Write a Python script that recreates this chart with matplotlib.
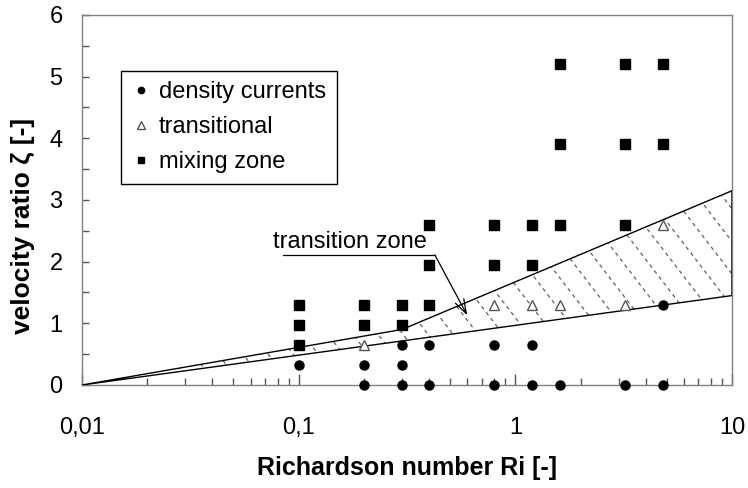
# Flow regimes: velocity ratio vs. Richardson number
import matplotlib
matplotlib.use("Agg")
import matplotlib.pyplot as plt
import numpy as np

plt.rcParams["font.family"] = ["Liberation Sans", "DejaVu Sans"]
plt.rcParams["font.size"] = 17

# observed regimes (Ri, zeta)
dens_ri = [0.1, 0.2, 0.2, 0.3, 0.3, 0.3, 0.4, 0.4, 0.8, 0.8, 1.2, 1.2, 1.6, 3.2, 4.8, 4.8]
dens_z = [0.325, 0.325, 0.0, 0.65, 0.325, 0.0, 0.65, 0.0, 0.65, 0.0, 0.65, 0.0, 0.0, 0.0, 1.3, 0.0]

trans_ri = [0.2, 0.8, 1.2, 1.6, 3.2, 4.8]
trans_z = [0.65, 1.3, 1.3, 1.3, 1.3, 2.6]

mix_ri = [0.1, 0.1, 0.1, 0.2, 0.2, 0.3, 0.3, 0.4, 0.4, 0.4, 0.8, 0.8, 1.2, 1.2,
          1.6, 1.6, 1.6, 3.2, 3.2, 3.2, 4.8, 4.8]
mix_z = [1.3, 0.975, 0.65, 1.3, 0.975, 1.3, 0.975, 2.6, 1.95, 1.3, 2.6, 1.95, 2.6, 1.95,
         5.2, 3.9, 2.6, 5.2, 3.9, 2.6, 5.2, 3.9]

# boundaries of the transition zone
lower_ri = [0.01, 10]
lower_z = [0.0, 1.45]
upper_ri = [0.01, 0.3, 10]
upper_z = [0.0, 0.9, 3.15]

xticks = [0.01, 0.1, 1, 10]
xticklabels = ["0,01", "0,1", "1", "10"]

fig = plt.figure(figsize=(7.48, 4.88), dpi=100)
ax = fig.add_axes([0.1096, 0.2111, 0.869, 0.7582])
ax.set_xscale("log")
ax.set_xlim(0.01, 10)
ax.set_ylim(0, 6)

# zone polygon (straight segments in log-x)
zx = np.array(upper_ri, dtype=float)
lo = np.interp(np.log10(zx), np.log10(lower_ri), lower_z)
poly_x = list(zx) + list(zx[::-1])
poly_y = list(upper_z) + list(lo[::-1])
poly = ax.fill(poly_x, poly_y, facecolor="none", edgecolor="black", lw=1.0, zorder=3)[0]

# dashed hatch clipped to the zone
slope = 1.3 * 650 / 370
for x0 in np.arange(-0.5, 1.5, 0.0385):
    ln, = ax.plot([x0, x0 + 1 / slope], [1, 0], transform=ax.transAxes,
                  color="#606060", lw=0.9, ls=(0, (3, 3)), zorder=2)
    ln.set_clip_path(poly)

ax.plot(dens_ri, dens_z, "o", color="black", ms=6.5, ls="none",
        label="density currents", zorder=5, clip_on=False)
ax.plot(trans_ri, trans_z, "^", mfc="white", mec="#555555", mew=1.0, ms=7.5, ls="none",
        label="transitional", zorder=5)
ax.plot(mix_ri, mix_z, "s", color="black", ms=7, ls="none",
        label="mixing zone", zorder=5)

# annotation
ax.text(0.076, 2.32, "transition zone", ha="left", va="center", fontsize=17)
ax.plot([0.085, 0.425], [2.11, 2.11], color="black", lw=0.9, zorder=4)
ax.annotate("", xy=(0.6, 1.13), xytext=(0.425, 2.11),
            arrowprops=dict(arrowstyle="->,head_length=0.6,head_width=0.2",
                            color="black", lw=0.9, shrinkA=0, shrinkB=0), zorder=4)

ax.set_xticks(xticks)
ax.set_xticklabels(xticklabels)
ax.set_yticks(range(0, 7))
ax.set_yticks(np.arange(0.5, 6, 1.0), minor=True)
ax.tick_params(which="both", direction="in", length=5, width=1, color="#555555",
               labelsize=17)
ax.tick_params(axis="x", which="major", length=8, pad=23)
ax.tick_params(axis="y", which="major", pad=14)
for s in ax.spines.values():
    s.set_color("#808080")
    s.set_linewidth(1.0)

ax.set_xlabel("Richardson number Ri [-]", fontsize=18, fontweight="bold", labelpad=12)
ax.set_ylabel("velocity ratio ζ [-]", fontsize=19, fontweight="bold")
ax.yaxis.set_label_coords(-0.072, 0.43)

leg = ax.legend(loc="upper left", bbox_to_anchor=(0.06, 0.849), borderaxespad=0,
                fancybox=False, edgecolor="black", framealpha=1, fontsize=17,
                markerscale=0.7, handlelength=0.8, handletextpad=0.35,
                labelspacing=0.55, borderpad=0.45)
leg.get_frame().set_linewidth(1.0)

fig.savefig("out.png", dpi=100)
